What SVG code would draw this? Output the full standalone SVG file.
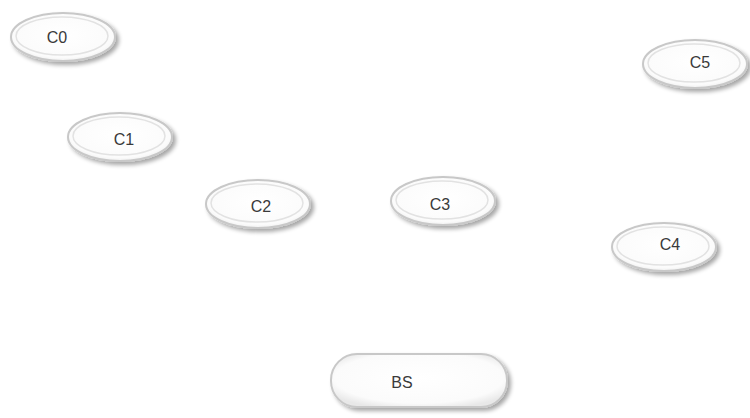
<svg xmlns="http://www.w3.org/2000/svg" width="750" height="418" viewBox="0 0 750 418">
<defs>
<filter id="sh" x="-20%" y="-30%" width="150%" height="170%">
<feGaussianBlur in="SourceAlpha" stdDeviation="2"/>
<feOffset dx="3" dy="3"/>
<feComponentTransfer><feFuncA type="linear" slope="0.35"/></feComponentTransfer>
<feMerge><feMergeNode/><feMergeNode in="SourceGraphic"/></feMerge>
</filter>
<radialGradient id="g" cx="50%" cy="45%" r="60%">
<stop offset="0" stop-color="#ffffff"/>
<stop offset="0.8" stop-color="#fbfbfb"/>
<stop offset="1" stop-color="#e8e8e8"/>
</radialGradient>
</defs>
<style>
.o{fill:url(#g);stroke:#c8c8c8;stroke-width:2;filter:url(#sh)}
.i{fill:none;stroke:#e2e2e2;stroke-width:1.5}
.t{font-family:"Liberation Sans",Arial,sans-serif;font-size:16px;fill:#3a3a3a;text-anchor:middle}
</style>
<rect width="750" height="418" fill="#fff"/>
<g id="C0"><ellipse class="o" cx="63" cy="37" rx="52" ry="24"/><ellipse class="i" cx="62" cy="36" rx="46" ry="19"/><text class="t" x="57" y="43">C0</text></g>
<g id="C1"><ellipse class="o" cx="120" cy="137" rx="52" ry="24"/><ellipse class="i" cx="119" cy="136" rx="46" ry="19"/><text class="t" x="124" y="145">C1</text></g>
<g id="C2"><ellipse class="o" cx="258" cy="204" rx="52" ry="24"/><ellipse class="i" cx="257" cy="203" rx="46" ry="19"/><text class="t" x="261" y="212">C2</text></g>
<g id="C3"><ellipse class="o" cx="443" cy="201" rx="52" ry="24"/><ellipse class="i" cx="442" cy="200" rx="46" ry="19"/><text class="t" x="440" y="210">C3</text></g>
<g id="C4"><ellipse class="o" cx="664" cy="247" rx="52" ry="24"/><ellipse class="i" cx="663" cy="246" rx="46" ry="19"/><text class="t" x="670" y="250">C4</text></g>
<g id="C5"><ellipse class="o" cx="695" cy="64" rx="52" ry="24"/><ellipse class="i" cx="694" cy="63" rx="46" ry="19"/><text class="t" x="700" y="68">C5</text></g>
<g id="BS"><rect class="o" x="331" y="354" width="176" height="53" rx="26" ry="26"/><text class="t" x="402" y="388">BS</text></g>
<g id="connectors"></g>
</svg>
